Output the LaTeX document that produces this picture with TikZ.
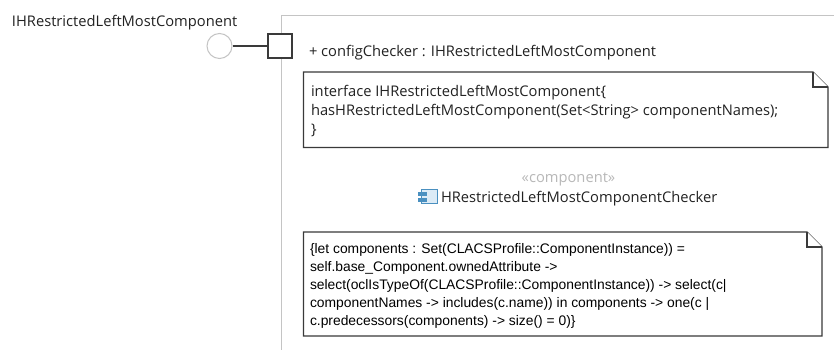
\documentclass[tikz,border=0pt]{standalone}
\usepackage{fontspec}
\setmainfont{Open Sans}
\newfontfamily\notefont{Liberation Sans}
\definecolor{framegray}{HTML}{C4C4C4}
\definecolor{inkdark}{HTML}{3A3A3A}
\definecolor{textdark}{HTML}{222222}
\definecolor{stereo}{HTML}{B8B8B8}
\definecolor{iconblue}{HTML}{4A90C0}
\definecolor{iconfill}{HTML}{DCEBF6}
\tikzset{
  x=1pt,y=-1pt,
  label text/.style={anchor=base west,inner sep=0pt,outer sep=0pt,text=textdark,font=\fontsize{14.7}{17}\selectfont},
  ocl text/.style={anchor=base west,inner sep=0pt,outer sep=0pt,text=black,font=\notefont\fontsize{13.85}{16}\selectfont},
  note line/.style={draw=inkdark,line width=1.1pt,fill=white,line join=miter},
  frame line/.style={draw=framegray,line width=1pt},
}
\begin{document}
\begin{tikzpicture}
\useasboundingbox (0,0) rectangle (834,350);
\fill[white] (0,0) rectangle (834,350);
% component frame
\draw[frame line] (281,350) -- (281,15.5) -- (834,15.5);
% interface and port
\node[circle,draw=framegray,line width=1pt,fill=white,minimum size=25pt,inner sep=0pt] (iface) at (219.5,46) {};
\node[rectangle,draw=inkdark,line width=1.1pt,fill=white,minimum size=24pt,inner sep=0pt] (port) at (280,46) {};
\draw[draw=inkdark,line width=1.1pt] (iface) -- (port);
\node[label text] (ifacename) at (12,26.5) {IHRestrictedLeftMostComponent};
\node[label text] (portname) at (309,56.5) {+ configChecker : IHRestrictedLeftMostComponent};
% first note
\draw[note line] (303.5,72) -- (813,72) -- (828,87) -- (828,147.5) -- (303.5,147.5) -- cycle;
\draw[note line] (813,72) -- (813,87) -- (828,87);
\node[label text] (n1a) at (311,96.5) {interface IHRestrictedLeftMostComponent\{};
\node[label text] (n1b) at (311,115.5) {hasHRestrictedLeftMostComponent(Set<String> componentNames);};
\node[label text] (n1c) at (311,134.5) {\}};
% component title
\node[label text,text=stereo,anchor=base] (stereotype) at (568.5,182) {«component»};
\node[label text] (cname) at (441,202) {HRestrictedLeftMostComponentChecker};
\draw[draw=iconblue,line width=1pt,fill=iconfill] (421.5,189.5) rectangle (437,203);
\fill[iconblue] (418,191.5) rectangle (427,195.5);
\fill[iconblue] (418,197.5) rectangle (427,201.5);
% second note
\draw[note line] (303.5,232) -- (807,232) -- (822,247) -- (822,336) -- (303.5,336) -- cycle;
\draw[note line] (807,232) -- (807,247) -- (822,247);
\node[ocl text] (n2a) at (310,253.5) {\{let components : Set(CLACSProfile::ComponentInstance)) =};
\node[ocl text] (n2b) at (310,271.5) {self.base\_Component.ownedAttribute ->};
\node[ocl text] (n2c) at (310,289.5) {select(oclIsTypeOf(CLACSProfile::ComponentInstance)) -> select(c|};
\node[ocl text] (n2d) at (310,307.5) {componentNames -> includes(c.name)) in components -> one(c |};
\node[ocl text] (n2e) at (310,325.5) {c.predecessors(components) -> size() = 0)\}};
\end{tikzpicture}
\end{document}
